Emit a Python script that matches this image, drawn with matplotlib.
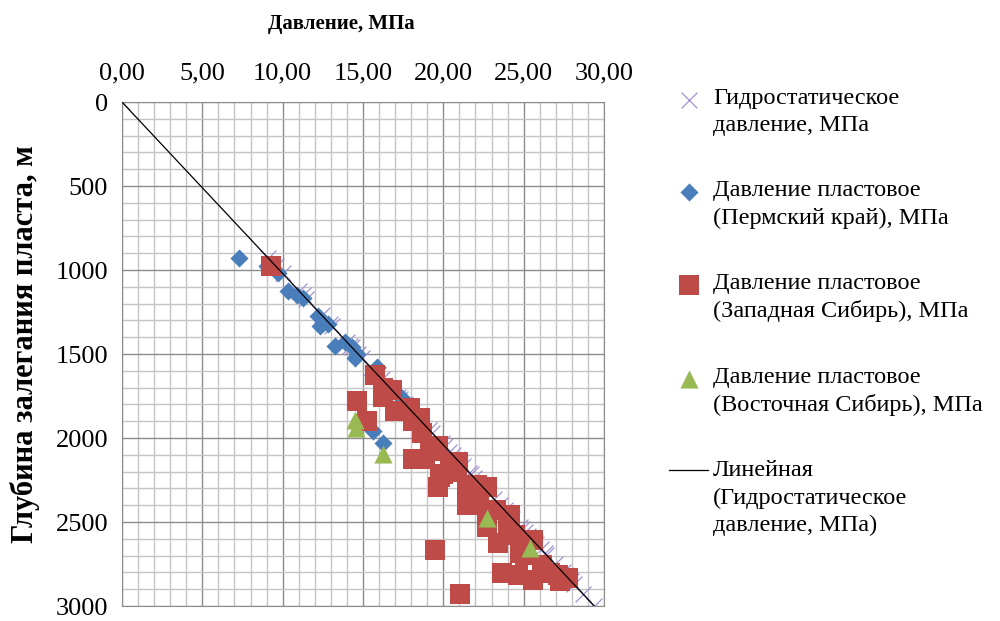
import numpy as np
import matplotlib
matplotlib.use('Agg')
import matplotlib.pyplot as plt
from matplotlib.collections import PathCollection
from matplotlib.ticker import MultipleLocator, FuncFormatter

plt.rcParams['font.family'] = ['Liberation Serif', 'DejaVu Serif']

# hydrostatic pressure, MPa / depth, m
hydro_p = [0, 9.11, 9.56, 10.0, 11.03, 11.27, 11.47, 12.45, 12.94, 13.08, 14.01, 14.21,
           14.31, 14.7, 14.95, 15.48, 15.93, 16.17, 16.66, 16.81, 17.2, 17.3, 17.64, 17.84,
           18.08, 18.42, 18.62, 19.11, 19.31, 19.89, 20.09, 20.38, 20.58, 20.83, 21.02, 21.22,
           21.61, 21.71, 21.9, 22.34, 22.44, 22.83, 23.13, 23.52, 23.81, 24.11, 24.3, 24.79,
           24.89, 25.09, 25.28, 25.53, 25.68, 25.77, 26.07, 26.31, 26.41, 26.95, 27.44, 27.59,
           27.73, 27.88, 27.93, 28.13, 28.71, 29.4]
hydro_d = [0, 930, 975, 1020, 1125, 1150, 1170, 1270, 1320, 1335, 1430, 1450,
           1460, 1500, 1525, 1580, 1625, 1650, 1700, 1715, 1755, 1765, 1800, 1820,
           1845, 1880, 1900, 1950, 1970, 2030, 2050, 2080, 2100, 2125, 2145, 2165,
           2205, 2215, 2235, 2280, 2290, 2330, 2360, 2400, 2430, 2460, 2480, 2530,
           2540, 2560, 2580, 2605, 2620, 2630, 2660, 2685, 2695, 2750, 2800, 2815,
           2830, 2845, 2850, 2870, 2930, 3000]

# Пермский край
perm_p = [7.28, 9.0, 9.73, 10.35, 10.87, 11.28, 12.2, 12.32, 12.84, 13.25, 13.88, 14.29,
          14.6, 14.5, 15.85, 17.4, 15.64, 16.26]
perm_d = [929, 978, 1018, 1125, 1149, 1165, 1273, 1331, 1318, 1449, 1429, 1459,
          1498, 1524, 1576, 1763, 1959, 2027]

# Западная Сибирь
wsib_p = [9.3, 15.74, 14.64, 15.23, 16.26, 16.78, 16.26, 16.99, 17.92, 18.13, 18.54, 18.65,
          18.13, 18.85, 19.17, 19.68, 20.0, 20.93, 19.79, 19.68, 20.41, 20.83, 21.45, 21.45,
          21.76, 22.07, 22.69, 23.3, 24.14, 22.2, 22.69, 22.69, 23.42, 24.1, 24.0, 24.46,
          24.77, 25.6, 19.48, 21.03, 23.63, 24.66, 25.6, 26.12, 26.63, 27.26, 27.77, 25.08,
          24.97, 27.15]
wsib_d = [978, 1625, 1782, 1900, 1704, 1714, 1753, 1841, 1822, 1900, 1880, 1969,
          2125, 2125, 2076, 2047, 2214, 2145, 2233, 2292, 2165, 2204, 2292, 2400,
          2361, 2282, 2292, 2429, 2459, 2400, 2478, 2527, 2627, 2478, 2537, 2576,
          2684, 2606, 2665, 2929, 2804, 2814, 2843, 2753, 2802, 2851, 2831, 2694,
          2606, 2812]

# Восточная Сибирь
esib_p = [14.5, 14.56, 16.26, 22.69, 25.39]
esib_d = [1890, 1939, 2096, 2478, 2655]

fig = plt.figure(figsize=(10, 6.21), dpi=100)
ax = fig.add_axes([0.122, 0.024, 0.482, 0.8116])

ax.scatter(hydro_p, hydro_d, marker='x', s=130, color='#A391CF', linewidths=0.9,
           label='Гидростатическое\nдавление, МПа', zorder=3)
ax.scatter(perm_p, perm_d, marker='D', s=85, color='#4A7EBB', linewidths=0,
           label='Давление пластовое\n(Пермский край), МПа', zorder=4)
ax.scatter(wsib_p, wsib_d, marker='s', s=190, color='#BE4B48', linewidths=0,
           label='Давление пластовое\n(Западная Сибирь), МПа', zorder=5)
ax.scatter(esib_p, esib_d, marker='^', s=170, color='#98B954', linewidths=0,
           label='Давление пластовое\n(Восточная Сибирь), МПа', zorder=6)

# linear trend of hydrostatic pressure
k, b = np.polyfit(hydro_d, hydro_p, 1)
dd = np.array([0, 3000])
ax.plot(k * dd + b, dd, color='black', lw=0.9, zorder=7,
        label='Линейная\n(Гидростатическое\nдавление, МПа)')

ax.set_xlim(0, 30)
ax.set_ylim(3000, 0)
ax.xaxis.set_major_locator(MultipleLocator(5))
ax.xaxis.set_minor_locator(MultipleLocator(1))
ax.yaxis.set_major_locator(MultipleLocator(500))
ax.yaxis.set_minor_locator(MultipleLocator(100))
ax.xaxis.set_major_formatter(FuncFormatter(lambda v, p: f'{v:.2f}'.replace('.', ',')))
ax.xaxis.tick_top()
ax.xaxis.set_label_position('top')
ax.tick_params(axis='both', which='both', length=0, labelsize=19)
ax.tick_params(axis='x', pad=13)
ax.tick_params(axis='y', pad=10)
ax.grid(which='minor', color='#C4C4C4', lw=1.0)
ax.grid(which='major', color='#8C8C8C', lw=1.0)
ax.set_axisbelow(True)
for s in ax.spines.values():
    s.set_color('#8C8C8C')

ax.set_xlabel('Давление, МПа', fontsize=15, fontweight='bold')
ax.xaxis.set_label_coords(0.455, 1.145)
ax.set_ylabel('Глубина залегания пласта, м', fontsize=22, fontweight='bold')
ax.yaxis.set_label_coords(-0.17, 0.52)

leg = fig.legend(loc='upper left', bbox_to_anchor=(0.657, 0.878), frameon=False,
                 fontsize=17.5, labelspacing=1.82, handletextpad=0.2, handlelength=1.6,
                 borderpad=0, scatterpoints=1)
for t in leg.get_texts():
    t.set_linespacing(1.38)

# legend symbols sit at the first text line, as in Excel
for h, t in zip(leg.legend_handles, leg.get_texts()):
    n = t.get_text().count('\n')
    dy = n * 10.0
    if isinstance(h, PathCollection):
        h.set_offsets(h.get_offsets() + np.array([0, dy]))
    else:
        h.set_ydata(np.asarray(h.get_ydata()) + dy)

fig.savefig('out.png', dpi=100)
